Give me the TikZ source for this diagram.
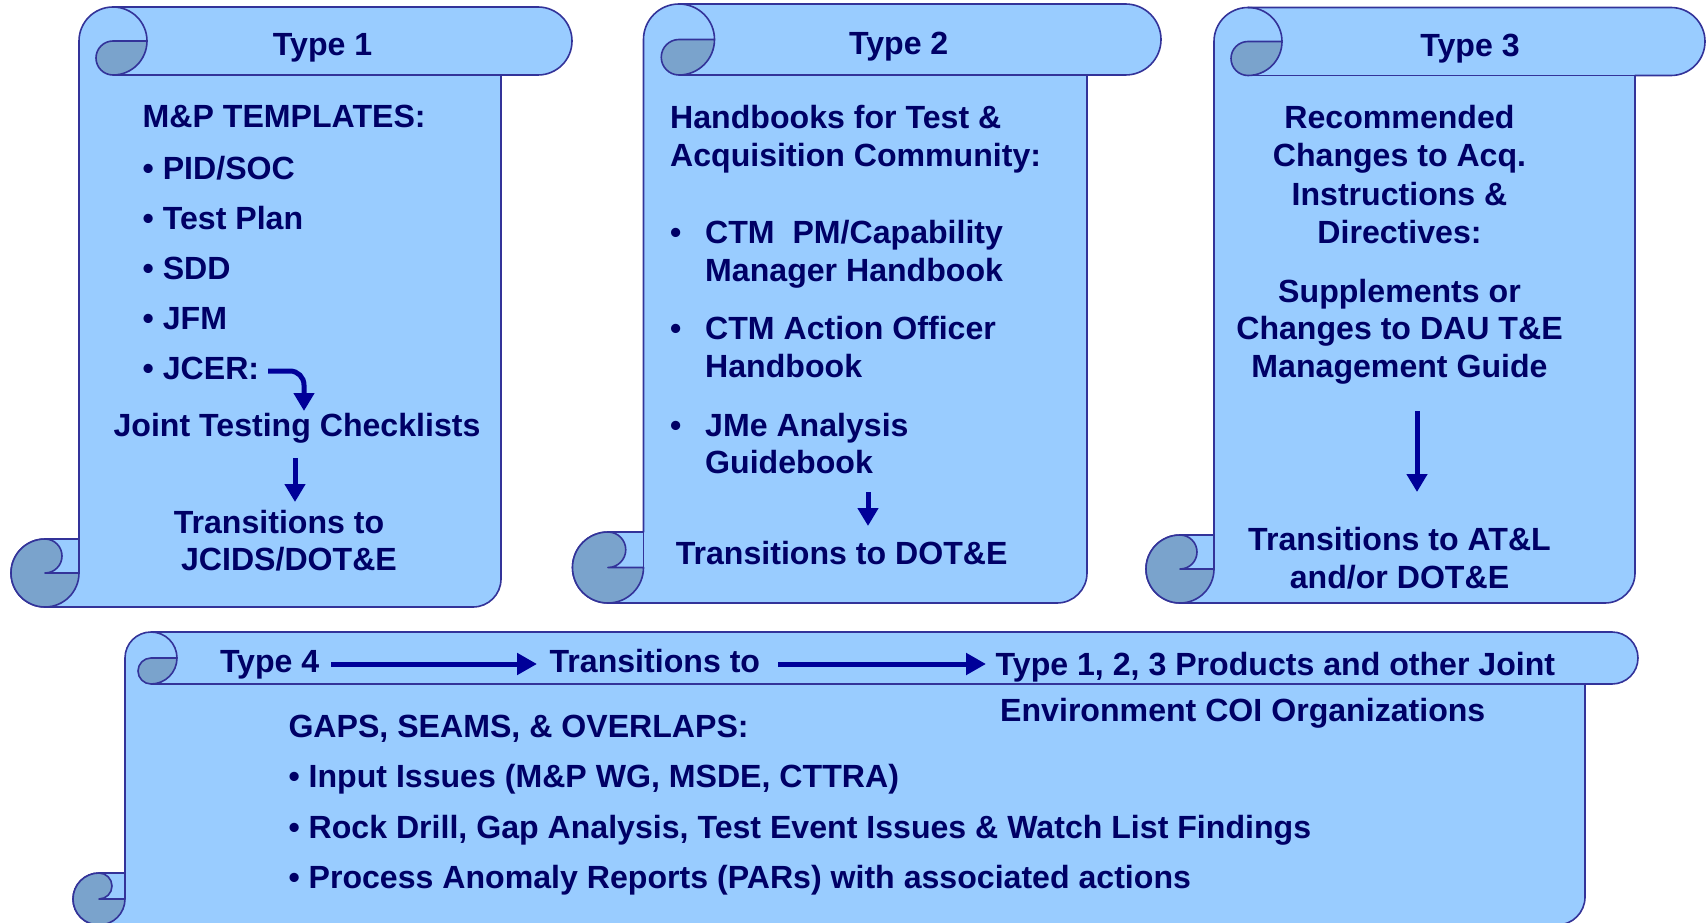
\documentclass[tikz,border=0pt]{standalone}
\usepackage{fontspec}
\setmainfont{Liberation Sans}
\usetikzlibrary{arrows.meta}
\definecolor{scrollfill}{HTML}{99CCFF}
\definecolor{curlfill}{HTML}{7AA3CC}
\definecolor{scrollline}{HTML}{333399}
\definecolor{txtcol}{HTML}{000066}
\definecolor{arrcol}{HTML}{000099}
\tikzset{
  scrollbody/.style={fill=scrollfill, draw=scrollline, line width=1.6pt, line join=round},
  curlpart/.style={fill=curlfill, draw=scrollline, line width=1.6pt, line join=round},
  edgeline/.style={draw=scrollline, line width=1.6pt},
  txt/.style={text=txtcol, font=\fontsize{32.1}{38}\selectfont\bfseries, inner sep=0pt},
  flowarrow/.style={draw=arrcol, line width=5pt, -{Triangle[width=20pt,length=18pt]}},
  longarrow/.style={draw=arrcol, line width=5pt, -{Triangle[width=21pt,length=20pt]}}
}
% xL yT r xE xR yBot rc
\newcommand\scrollshape[7]{%
  \def\scXL{#1}\def\scYT{#2}\def\scR{#3}\def\scXE{#4}\def\scXR{#5}\def\scYB{#6}\def\scRC{#7}%
  \path[scrollbody] (\scXL,\scYT+\scR) arc[start angle=180,end angle=270,radius=\scR]
    -- (\scXE-\scR,\scYT) arc[start angle=-90,end angle=90,radius=\scR]
    -- (\scXR,\scYT+2*\scR) -- (\scXR,\scYB-\scRC) arc[start angle=0,end angle=90,radius=\scRC]
    -- (\scXL-\scR,\scYB) arc[start angle=90,end angle=270,radius=\scR]
    -- (\scXL,\scYB-2*\scR) -- cycle;
  \path[curlpart] (\scXL+2*\scR,\scYT+\scR) arc[start angle=0,end angle=90,radius=\scR]
    arc[start angle=90,end angle=270,radius=\scR/2] -- cycle;
  \path[edgeline] (\scXL+\scR,\scYT) arc[start angle=-90,end angle=0,radius=\scR];
  \path[edgeline] (\scXL+\scR,\scYT+2*\scR) -- (\scXR,\scYT+2*\scR);
  \path[curlpart] (\scXL-\scR,\scYB-2*\scR) arc[start angle=-90,end angle=90,radius=\scR/2]
    -- (\scXL,\scYB-\scR) arc[start angle=0,end angle=270,radius=\scR] -- cycle;
  \path[edgeline] (\scXL,\scYB-2*\scR) -- (\scXL,\scYB-\scR);
}
\begin{document}
\begin{tikzpicture}[x=1pt,y=-1pt]
\useasboundingbox (0,0) rectangle (1706,923);
\fill[white] (0,0) rectangle (1706,923);

% scrolls
\scrollshape{79}{7}{34}{572}{501}{607}{28}
\scrollshape{643.5}{4}{35.5}{1161}{1087}{603}{30}
\scrollshape{1214}{7.5}{34}{1705}{1635}{603}{30}
\scrollshape{125}{632}{26}{1638}{1585}{925}{28}

% ---- Type 1
\node[txt, anchor=base] (t1) at (322.6,56) {Type 1};
\node[txt, anchor=base west] (mp) at (142.5,128) {M\&P TEMPLATES:};
\node[txt, anchor=base west] (b1) at (142.5,179.5) {• PID/SOC};
\node[txt, anchor=base west] (b2) at (142.5,229.5) {• Test Plan};
\node[txt, anchor=base west] (b3) at (142.5,279.5) {• SDD};
\node[txt, anchor=base west] (b4) at (142.5,329.5) {• JFM};
\node[txt, anchor=base west] (b5) at (142.5,379.5) {• JCER:};
\node[txt, anchor=base] (jtc) at (297,436) {Joint Testing Checklists};
\node[txt, anchor=base] (tr1a) at (279,533) {Transitions to};
\node[txt, anchor=base] (tr1b) at (289,570) {JCIDS/DOT\&E};
\coordinate (a1s) at (268,371);
\coordinate (a1e) at (304,411);
\draw[flowarrow] (a1s) -- (290,371) arc[start angle=-90,end angle=0,radius=14] -- (a1e);
\coordinate (a2s) at (295,458);
\coordinate (a2e) at (295,502);
\draw[flowarrow] (a2s) -- (a2e);

% ---- Type 2
\node[txt, anchor=base] (t2) at (898.7,54.5) {Type 2};
\node[txt, anchor=base west] (hb1) at (670,128.4) {Handbooks for Test \&};
\node[txt, anchor=base west] (hb2) at (670,166.5) {Acquisition Community:};
\node[txt, anchor=base west] (d1) at (670,243.7) {•};
\node[txt, anchor=base west] (i1a) at (705,243.7) {CTM\ \ PM/Capability};
\node[txt, anchor=base west] (i1b) at (705,281.8) {Manager Handbook};
\node[txt, anchor=base west] (d2) at (670,339.5) {•};
\node[txt, anchor=base west] (i2a) at (705,339.5) {CTM Action Officer};
\node[txt, anchor=base west] (i2b) at (705,377.5) {Handbook};
\node[txt, anchor=base west] (d3) at (670,436.3) {•};
\node[txt, anchor=base west] (i3a) at (705,436.3) {JMe Analysis};
\node[txt, anchor=base west] (i3b) at (705,473.3) {Guidebook};
\coordinate (a3s) at (868,492);
\coordinate (a3e) at (868,526);
\draw[flowarrow] (a3s) -- (a3e);
\node[txt, anchor=base west] (tr2) at (675.6,564.7) {Transitions to DOT\&E};

% ---- Type 3
\node[txt, anchor=base] (t3) at (1470,56.6) {Type 3};
\node[txt, anchor=base] (r1) at (1399.5,128.4) {Recommended};
\node[txt, anchor=base] (r2) at (1399.5,166.5) {Changes to Acq.};
\node[txt, anchor=base] (r3) at (1399.5,205.6) {Instructions \&};
\node[txt, anchor=base] (r4) at (1399.5,243.7) {Directives:};
\node[txt, anchor=base] (s1) at (1399.5,302.5) {Supplements or};
\node[txt, anchor=base] (s2) at (1399.5,339.5) {Changes to DAU T\&E};
\node[txt, anchor=base] (s3) at (1399.5,377.5) {Management Guide};
\coordinate (a4s) at (1417,411);
\coordinate (a4e) at (1417,492);
\draw[flowarrow] (a4s) -- (a4e);
\node[txt, anchor=base] (tr3a) at (1399.5,550.5) {Transitions to AT\&L};
\node[txt, anchor=base] (tr3b) at (1399.5,588.6) {and/or DOT\&E};

% ---- Type 4
\node[txt, anchor=base west] (t4) at (219.8,672) {Type 4};
\node[txt, anchor=base west] (tr4) at (549.4,672) {Transitions to};
\node[txt, anchor=base west] (prod1) at (995.5,675.5) {Type 1, 2, 3 Products and other Joint};
\node[txt, anchor=base west] (prod2) at (1000,721) {Environment COI Organizations};
\coordinate (a5s) at (331,664);
\coordinate (a5e) at (537,664);
\coordinate (a6s) at (778,664);
\coordinate (a6e) at (986,664);
\draw[longarrow] (a5s) -- (a5e);
\draw[longarrow] (a6s) -- (a6e);
\node[txt, anchor=base west] (gaps) at (288.3,737.5) {GAPS, SEAMS, \& OVERLAPS:};
\node[txt, anchor=base west] (g1) at (288.3,787.5) {• Input Issues (M\&P WG, MSDE, CTTRA)};
\node[txt, anchor=base west] (g2) at (288.3,838) {• Rock Drill, Gap Analysis, Test Event Issues \& Watch List Findings};
\node[txt, anchor=base west] (g3) at (288.3,888) {• Process Anomaly Reports (PARs) with associated actions};
\end{tikzpicture}
\end{document}
